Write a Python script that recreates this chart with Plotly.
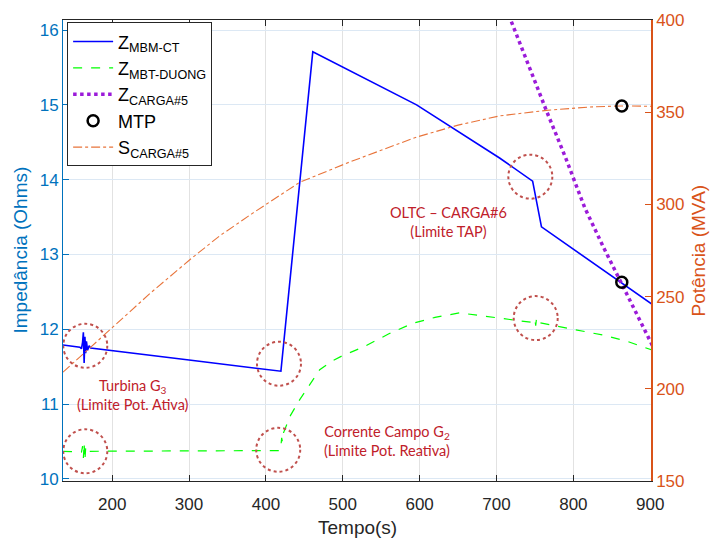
import plotly.graph_objects as go

# ---------------- data ----------------
blue_t = [136, 158, 160, 161.5, 162.5, 163.5, 164.5, 165.5, 166.5, 168, 170, 172,
          300, 419.5, 461, 596, 704, 747, 758.5, 862, 903]
blue_z = [11.79, 11.762, 11.74, 11.83, 11.96, 11.55, 11.90, 11.68, 11.84, 11.72, 11.78, 11.75,
          11.59, 11.44, 15.71, 15.00, 14.29, 13.98, 13.37, 12.63, 12.33]

green_t = [136, 158, 160, 161.5, 162.5, 163.5, 164.5, 165.5, 167, 170, 200, 300, 419,
           420.5, 421.5, 423, 426, 432, 444, 458, 470, 485, 500, 526, 560, 591, 620,
           652, 690, 721, 748, 750, 751, 752, 753, 755, 780, 808, 840, 870, 903]
green_z = [10.37, 10.37, 10.36, 10.44, 10.28, 10.48, 10.25, 10.41, 10.34, 10.37, 10.37, 10.37, 10.38,
           10.55, 10.50, 10.62, 10.70, 10.85, 11.06, 11.28, 11.46, 11.57, 11.65, 11.76, 11.94, 12.08, 12.16,
           12.22, 12.17, 12.12, 12.09, 12.13, 12.05, 12.14, 12.08, 12.09, 12.04, 11.99, 11.92, 11.84, 11.72]

purple_t = [716, 740, 765, 790, 815, 840, 862, 885, 903]
purple_z = [16.20, 15.57, 14.92, 14.29, 13.62, 13.08, 12.63, 12.15, 11.78]

orange_t = [136, 197, 250, 301, 340, 382, 444, 509, 596, 650, 704, 765, 820, 862, 903]
orange_s = [209, 232, 252, 270, 283, 295, 312, 323, 336.5, 343, 348, 351, 352.8, 353.4, 353.2]

mtp_t = [863]
mtp_z = [12.63]
mtp_s = [353.4]

# annotation circles (anchor points in data units)
circle_t = [165, 165, 417, 416, 744, 751]
circle_z = [11.78, 10.37, 11.54, 10.39, 14.04, 12.15]

note_t = [227, 558, 638]
note_z = [11.12, 10.51, 13.44]
note_txt = ["Turbina G<sub>3</sub><br>(Limite Pot. Ativa)",
            "Corrente Campo G<sub>2</sub><br>(Limite Pot. Reativa)",
            "OLTC – CARGA#6<br>(Limite TAP)"]

x_ticks = [200, 300, 400, 500, 600, 700, 800, 900]
y_ticks = [10, 11, 12, 13, 14, 15, 16]
y2_ticks = [150, 200, 250, 300, 350, 400]

BLUE_AX = "#0072BD"
ORANGE_AX = "#D95319"
FONT = "Liberation Sans, Arial, sans-serif"

fig = go.Figure()
fig.add_trace(go.Scatter(x=blue_t, y=blue_z, mode="lines", name="Z<sub>MBM-CT</sub>",
                         line=dict(color="#0000FF", width=1.6)))
fig.add_trace(go.Scatter(x=green_t, y=green_z, mode="lines", name="Z<sub>MBT-DUONG</sub>",
                         line=dict(color="#00FF00", width=1.2, dash="dash")))
fig.add_trace(go.Scatter(x=purple_t, y=purple_z, mode="lines", name="Z<sub>CARGA#5</sub>",
                         line=dict(color="#9B1BD9", width=3.5, dash="dot")))
fig.add_trace(go.Scatter(x=mtp_t, y=mtp_z, mode="markers", name="MTP",
                         marker=dict(symbol="circle-open", size=11, color="black",
                                     line=dict(width=2.5, color="black"))))
fig.add_trace(go.Scatter(x=orange_t, y=orange_s, mode="lines", name="S<sub>CARGA#5</sub>",
                         yaxis="y2", line=dict(color="#E8743B", width=1.1, dash="dashdot")))
fig.add_trace(go.Scatter(x=mtp_t, y=mtp_s, mode="markers", name="MTP", showlegend=False,
                         yaxis="y2",
                         marker=dict(symbol="circle-open", size=11, color="black",
                                     line=dict(width=2.5, color="black"))))

shapes = []
for ct, cz in zip(circle_t, circle_z):
    shapes.append(dict(type="circle", xref="x", yref="y", xsizemode="pixel", ysizemode="pixel",
                       xanchor=ct, yanchor=cz, x0=-22, x1=22, y0=-22, y1=22,
                       line=dict(color="#C0504D", width=2, dash="dot"), layer="above"))

annotations = []
for nt, nz, tx in zip(note_t, note_z, note_txt):
    annotations.append(dict(x=nt, y=nz, xref="x", yref="y", text=tx, showarrow=False,
                            font=dict(family="Lato, Open Sans, sans-serif", size=14.5, color="#C0202A"),
                            align="center"))

# axis titles placed as paper annotations
annotations.append(dict(text="Impedância (Ohms)", xref="paper", yref="paper", x=0, y=0.5,
                        xshift=-43, xanchor="center", yanchor="middle", textangle=-90,
                        showarrow=False, font=dict(size=19, color=BLUE_AX, family=FONT)))
annotations.append(dict(text="Potência (MVA)", xref="paper", yref="paper", x=1, y=0.5,
                        xshift=47, xanchor="center", yanchor="middle", textangle=-90,
                        showarrow=False, font=dict(size=19, color=ORANGE_AX, family=FONT)))
annotations.append(dict(text="Tempo(s)", xref="paper", yref="paper", x=0.5, y=0,
                        yshift=-46, xanchor="center", yanchor="middle",
                        showarrow=False, font=dict(size=19, color="#262626", family=FONT)))

fig.update_layout(
    width=717, height=538,
    margin=dict(l=63, r=66, t=20, b=57, autoexpand=False),
    paper_bgcolor="white", plot_bgcolor="white",
    font=dict(family=FONT, color="#262626"),
    showlegend=True,
    legend=dict(x=0.007, y=0.995, xanchor="left", yanchor="top", bgcolor="white",
                bordercolor="#262626", borderwidth=1, font=dict(size=18, family=FONT, color="black"),
                itemwidth=40, tracegroupgap=0),
    xaxis=dict(range=[136, 901], tickvals=x_ticks, ticks="inside", ticklen=6,
               tickcolor="#262626", showline=True, linecolor="#262626", linewidth=1,
               mirror="ticks", showgrid=True, gridcolor="#E2E2E2", gridwidth=1,
               zeroline=False, tickfont=dict(size=17, color="#262626"), automargin=False,
               ticklabelstandoff=8),
    yaxis=dict(range=[9.973, 16.134], tickvals=y_ticks, ticks="inside", ticklen=6,
               tickcolor=BLUE_AX, showline=True, linecolor=BLUE_AX, linewidth=1,
               showgrid=True, gridcolor="#DCE8F4", gridwidth=1, zeroline=False,
               tickfont=dict(size=17, color=BLUE_AX), automargin=False),
    yaxis2=dict(range=[150, 400], tickvals=y2_ticks, overlaying="y", side="right",
                ticks="inside", ticklen=6, tickcolor=ORANGE_AX, showline=True,
                linecolor=ORANGE_AX, linewidth=1.5, showgrid=False, zeroline=False,
                tickfont=dict(size=17, color=ORANGE_AX), automargin=False),
    shapes=shapes,
    annotations=annotations,
)

fig.write_html("out.html", config={"displayModeBar": False},
               post_script="document.body.style.margin='0';document.body.style.padding='0';"
                           "document.documentElement.style.overflow='hidden';")
